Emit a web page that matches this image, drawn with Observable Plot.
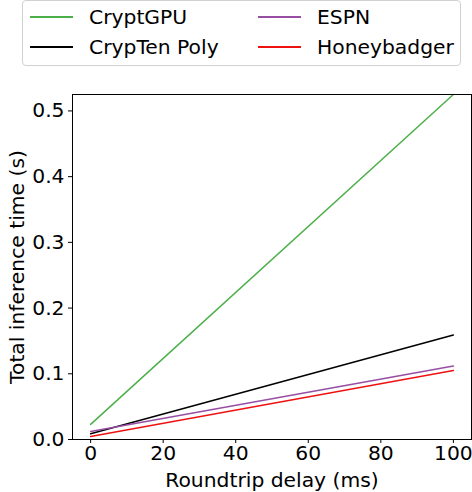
<!DOCTYPE html>
<html>
<head>
<meta charset="utf-8">
<script src="https://cdn.jsdelivr.net/npm/d3@7"></script>
<script src="https://cdn.jsdelivr.net/npm/@observablehq/plot@0.6"></script>
<style>
  html, body { margin: 0; padding: 0; background: #fff; }
  #wrap { position: relative; width: 472px; height: 492px; font-family: "DejaVu Sans", sans-serif; }
  #legend { position: absolute; left: 22px; top: 0px; width: 439px; height: 66px; border: 1px solid #d0d0d0; border-radius: 4px; box-sizing: border-box; background: #fff; }
  .item { position: absolute; font-size: 20.3px; color: #000; line-height: 24px; white-space: nowrap; font-family: "DejaVu Sans", sans-serif; }
  .item span.sw { position: absolute; left: 0; top: 11px; width: 43px; height: 2px; }
  .item span.lb { position: absolute; left: 59px; top: 0; }
  #chart { position: absolute; left: 0; top: 0; }
  #chart svg text { font-family: "DejaVu Sans", sans-serif; }
</style>
</head>
<body>
<div id="wrap">
  <div id="chart"></div>
  <div id="legend"></div>
</div>
<script>
const seriesNames = ["CryptGPU", "CrypTen Poly", "ESPN", "Honeybadger"];
const seriesColors = ["#4daf4a", "#000000", "#984ea3", "#ee1111"];
const delays = [0, 100];
const cryptGPU = [0.023, 0.525];
const crypTenPoly = [0.0087, 0.159];
const espn = [0.0122, 0.1117];
const honeybadger = [0.0046, 0.105];
const xTicks = [0, 20, 40, 60, 80, 100];
const yTicks = [0, 0.1, 0.2, 0.3, 0.4, 0.5];

const allValues = [cryptGPU, crypTenPoly, espn, honeybadger];
const data = [];
seriesNames.forEach((name, i) => {
  delays.forEach((d, j) => data.push({series: name, delay: d, time: allValues[i][j]}));
});

const plot = Plot.plot({
  width: 472,
  height: 492,
  marginTop: 94,
  marginLeft: 72,
  marginRight: 1,
  marginBottom: 53,
  style: {fontFamily: "DejaVu Sans, sans-serif", fontSize: "20.3px", color: "#000", background: "#fff"},
  x: {domain: [-5, 105]},
  y: {domain: [0, 0.525]},
  color: {domain: seriesNames, range: seriesColors},
  marks: [
    Plot.line(data, {x: "delay", y: "time", z: "series", stroke: "series", strokeWidth: 1.5}),
    Plot.frame({stroke: "#000", strokeWidth: 1}),
    Plot.axisX({ticks: xTicks, tickSize: 4, tickPadding: 2, stroke: "#000", fontSize: 20.3,
      label: "Roundtrip delay (ms)", labelAnchor: "center", labelArrow: "none", labelOffset: 47}),
    Plot.axisY({ticks: yTicks, tickSize: 4, tickPadding: 4, tickFormat: d3.format(".1f"), stroke: "#000", fontSize: 20.3,
      label: "Total inference time (s)", labelAnchor: "center", labelArrow: "none", labelOffset: 63})
  ]
});
document.getElementById("chart").appendChild(plot);

const legend = document.getElementById("legend");
const pos = [[7, 4], [7, 34], [235, 4], [235, 34]];
seriesNames.forEach((name, k) => {
  const div = document.createElement("div");
  div.className = "item";
  div.style.left = pos[k][0] + "px";
  div.style.top = pos[k][1] + "px";
  div.innerHTML = `<span class="sw" style="background:${seriesColors[k]}"></span><span class="lb">${name}</span>`;
  legend.appendChild(div);
});
</script>
</body>
</html>
